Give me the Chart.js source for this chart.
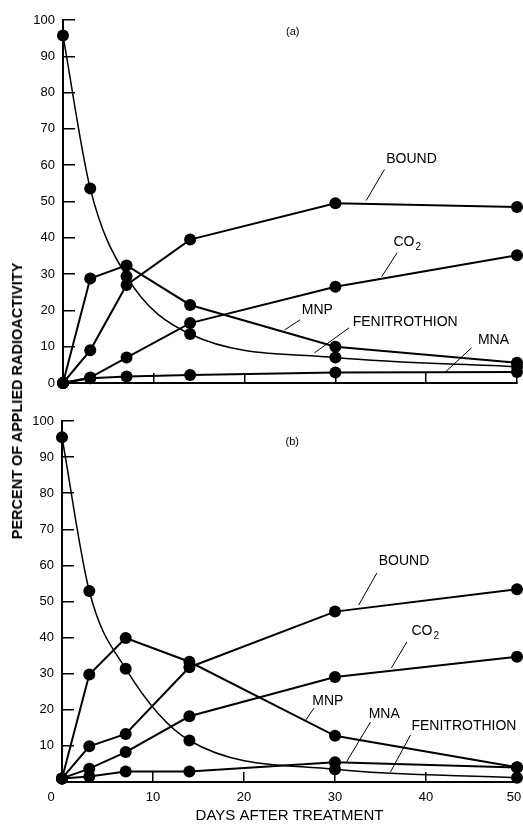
<!DOCTYPE html>
<html lang="en">
<head>
<meta charset="UTF-8">
<title>Fenitrothion breakdown in soil</title>
<script src="https://cdn.jsdelivr.net/npm/chart.js@4.4.1/dist/chart.umd.min.js"></script>
<style>
  body { margin: 0; background: #fff; }
  #wrap { position: relative; width: 523px; height: 824px; }
  canvas { position: absolute; left: 0; }
  #chartA { top: 0; }
  #chartB { top: 400px; }
  #ytitle {
    position: absolute; left: 17px; top: 401px;
    transform: translate(-50%, -50%) rotate(-90deg);
    font: bold 14.5px "Liberation Sans", Arial, sans-serif;
    white-space: nowrap; color: #000;
  }
</style>
</head>
<body>
<div id="wrap">
  <canvas id="chartA" width="523" height="400"></canvas>
  <canvas id="chartB" width="523" height="424"></canvas>
  <div id="ytitle">PERCENT OF APPLIED RADIOACTIVITY</div>
</div>

<script>
// sampling days (x values shared by both panels)
const days = [0, 3, 7, 14, 30, 50];

// panel (a)
const boundA = [0, 9, 27, 39.5, 49.5, 48.5];
const co2A   = [0, 1.5, 7, 16.5, 26.5, 35.2];
const mnpA   = [0, 28.8, 32.4, 21.5, 10, 5.6];
const fenA   = [95.7, 53.6, 29.4, 13.5, 7, 4.5];
const mnaA   = [0, 1.3, 1.8, 2.2, 2.9, 3];

// panel (b)
const boundB = [1, 9.9, 13.3, 31.8, 47.2, 53.4];
const co2B   = [1, 3.7, 8.3, 18.2, 29.1, 34.7];
const mnpB   = [1, 29.8, 39.9, 33.3, 12.8, 4.1];
const fenB   = [95.5, 52.9, 31.4, 11.5, 3.5, 1.2];
const mnaB   = [1, 1.5, 2.9, 2.9, 5.5, 4];

const ink = '#000';
Chart.defaults.font.family = '"Liberation Sans", Arial, sans-serif';
Chart.defaults.color = ink;

function pts(vals) {
    return days.map((d, i) => ({ x: d, y: vals[i] }));
}

function series(label, vals, smooth) {
    return {
        label: label,
        data: pts(vals),
        borderColor: ink,
        backgroundColor: ink,
        borderWidth: smooth ? 1.5 : 2,
        pointRadius: 6,
        pointBorderWidth: 0,
        cubicInterpolationMode: smooth ? 'monotone' : 'default',
        clip: false
    };
}

// curve labels with leader lines, placed in data units (days, percent)
const notesA = [
    { text: '(a)', x: 25.3, y: 96.7, center: true, small: true },
    { text: 'BOUND', x: 35.6, y: 61.6, from: [35.4, 58.8], to: [33.4, 50.3] },
    { text: 'CO', sub: '2', x: 36.4, y: 38.7, from: [36.8, 35.9], to: [35.1, 29.3] },
    { text: 'MNP', x: 26.3, y: 20.2, from: [26.1, 17.4], to: [24.4, 14.6] },
    { text: 'FENITROTHION', x: 31.9, y: 16.9, from: [31.5, 15.2], to: [27.7, 8.3] },
    { text: 'MNA', x: 45.7, y: 11.9, from: [45.0, 9.7], to: [42.1, 3.0] }
];
const notesB = [
    { text: '(b)', x: 25.3, y: 94.2, center: true, small: true },
    { text: 'BOUND', x: 34.8, y: 61.2, from: [34.6, 57.9], to: [32.6, 49.0] },
    { text: 'CO', sub: '2', x: 38.4, y: 41.8, from: [37.9, 38.8], to: [36.2, 31.6] },
    { text: 'MNP', x: 27.5, y: 22.4, from: [27.7, 20.5], to: [26.8, 17.2] },
    { text: 'MNA', x: 33.7, y: 18.8, from: [33.9, 16.6], to: [31.2, 5.3] },
    { text: 'FENITROTHION', x: 38.4, y: 15.5, from: [38.3, 13.0], to: [36.1, 2.8] }
];

function notePlugin(items) {
    return {
        id: 'notes',
        beforeDraw(chart) {
            // the printed "0" sits left of the axis and "50" just inside the frame
            const sx = chart.scales.x;
            if (!sx.options.ticks.display) return;
            const labels = sx.getLabelItems(chart.chartArea);
            if (labels.length) {
                labels[0].options.translation[0] -= 11;
                labels[labels.length - 1].options.translation[0] -= 3;
            }
        },
        afterDatasetsDraw(chart) {
            const ctx = chart.ctx;
            const sx = chart.scales.x, sy = chart.scales.y;
            ctx.save();
            ctx.fillStyle = ink;
            ctx.strokeStyle = ink;
            ctx.lineWidth = 1;
            ctx.textBaseline = 'middle';
            items.forEach(n => {
                const px = sx.getPixelForValue(n.x), py = sy.getPixelForValue(n.y);
                ctx.font = (n.small ? '11px' : '14px') + ' "Liberation Sans", Arial, sans-serif';
                ctx.textAlign = n.center ? 'center' : 'left';
                ctx.fillText(n.text, px, py);
                if (n.sub) {
                    const w = ctx.measureText(n.text).width;
                    ctx.font = '10px "Liberation Sans", Arial, sans-serif';
                    ctx.fillText(n.sub, px + w + 1, py + 5);
                }
                if (n.from) {
                    ctx.beginPath();
                    ctx.moveTo(sx.getPixelForValue(n.from[0]), sy.getPixelForValue(n.from[1]));
                    ctx.lineTo(sx.getPixelForValue(n.to[0]), sy.getPixelForValue(n.to[1]));
                    ctx.stroke();
                }
            });
            ctx.restore();
        }
    };
}

function makeChart(id, sets, notes, o) {
    return new Chart(document.getElementById(id), {
        type: 'line',
        data: { datasets: sets },
        options: {
            responsive: false,
            animation: false,
            layout: { padding: { left: 0, right: 4, top: o.top, bottom: 0 } },
            plugins: { legend: { display: false }, tooltip: { enabled: false } },
            scales: {
                x: {
                    type: 'linear', min: 0, max: 50,
                    ticks: { stepSize: 10, display: o.xLabels, font: { size: 13 }, padding: 18, maxRotation: 0 },
                    grid: { drawOnChartArea: false, drawTicks: true, tickLength: -10, color: ink, lineWidth: 1.5 },
                    border: { color: ink, width: 2 },
                    title: {
                        display: o.xLabels, text: 'DAYS AFTER TREATMENT',
                        font: { size: 15 }, padding: { top: 0, bottom: -1 }
                    },
                    afterFit: s => { s.height = o.xHeight; s.paddingLeft = 0; s.paddingRight = 0; }
                },
                y: {
                    type: 'linear', min: 0, max: 100,
                    ticks: {
                        stepSize: 10, font: { size: 13 }, padding: 20,
                        callback: v => (v === 0 && !o.yZero) ? '' : v
                    },
                    grid: { drawOnChartArea: false, drawTicks: true, tickLength: -12, color: ink, lineWidth: 1.5 },
                    border: { color: ink, width: 2 },
                    afterFit: s => { s.width = o.left; s.paddingTop = 0; s.paddingBottom = 0; }
                }
            }
        },
        plugins: [notePlugin(notes)]
    });
}

makeChart('chartA', [
    series('BOUND', boundA),
    series('CO2', co2A),
    series('MNP', mnpA),
    series('FENITROTHION', fenA, true),
    series('MNA', mnaA)
], notesA, { top: 20, left: 63, xHeight: 17, xLabels: false, yZero: true });

makeChart('chartB', [
    series('BOUND', boundB),
    series('CO2', co2B),
    series('MNP', mnpB),
    series('FENITROTHION', fenB, true),
    series('MNA', mnaB)
], notesB, { top: 21, left: 62, xHeight: 42, xLabels: true, yZero: false });
</script>
</body>
</html>
